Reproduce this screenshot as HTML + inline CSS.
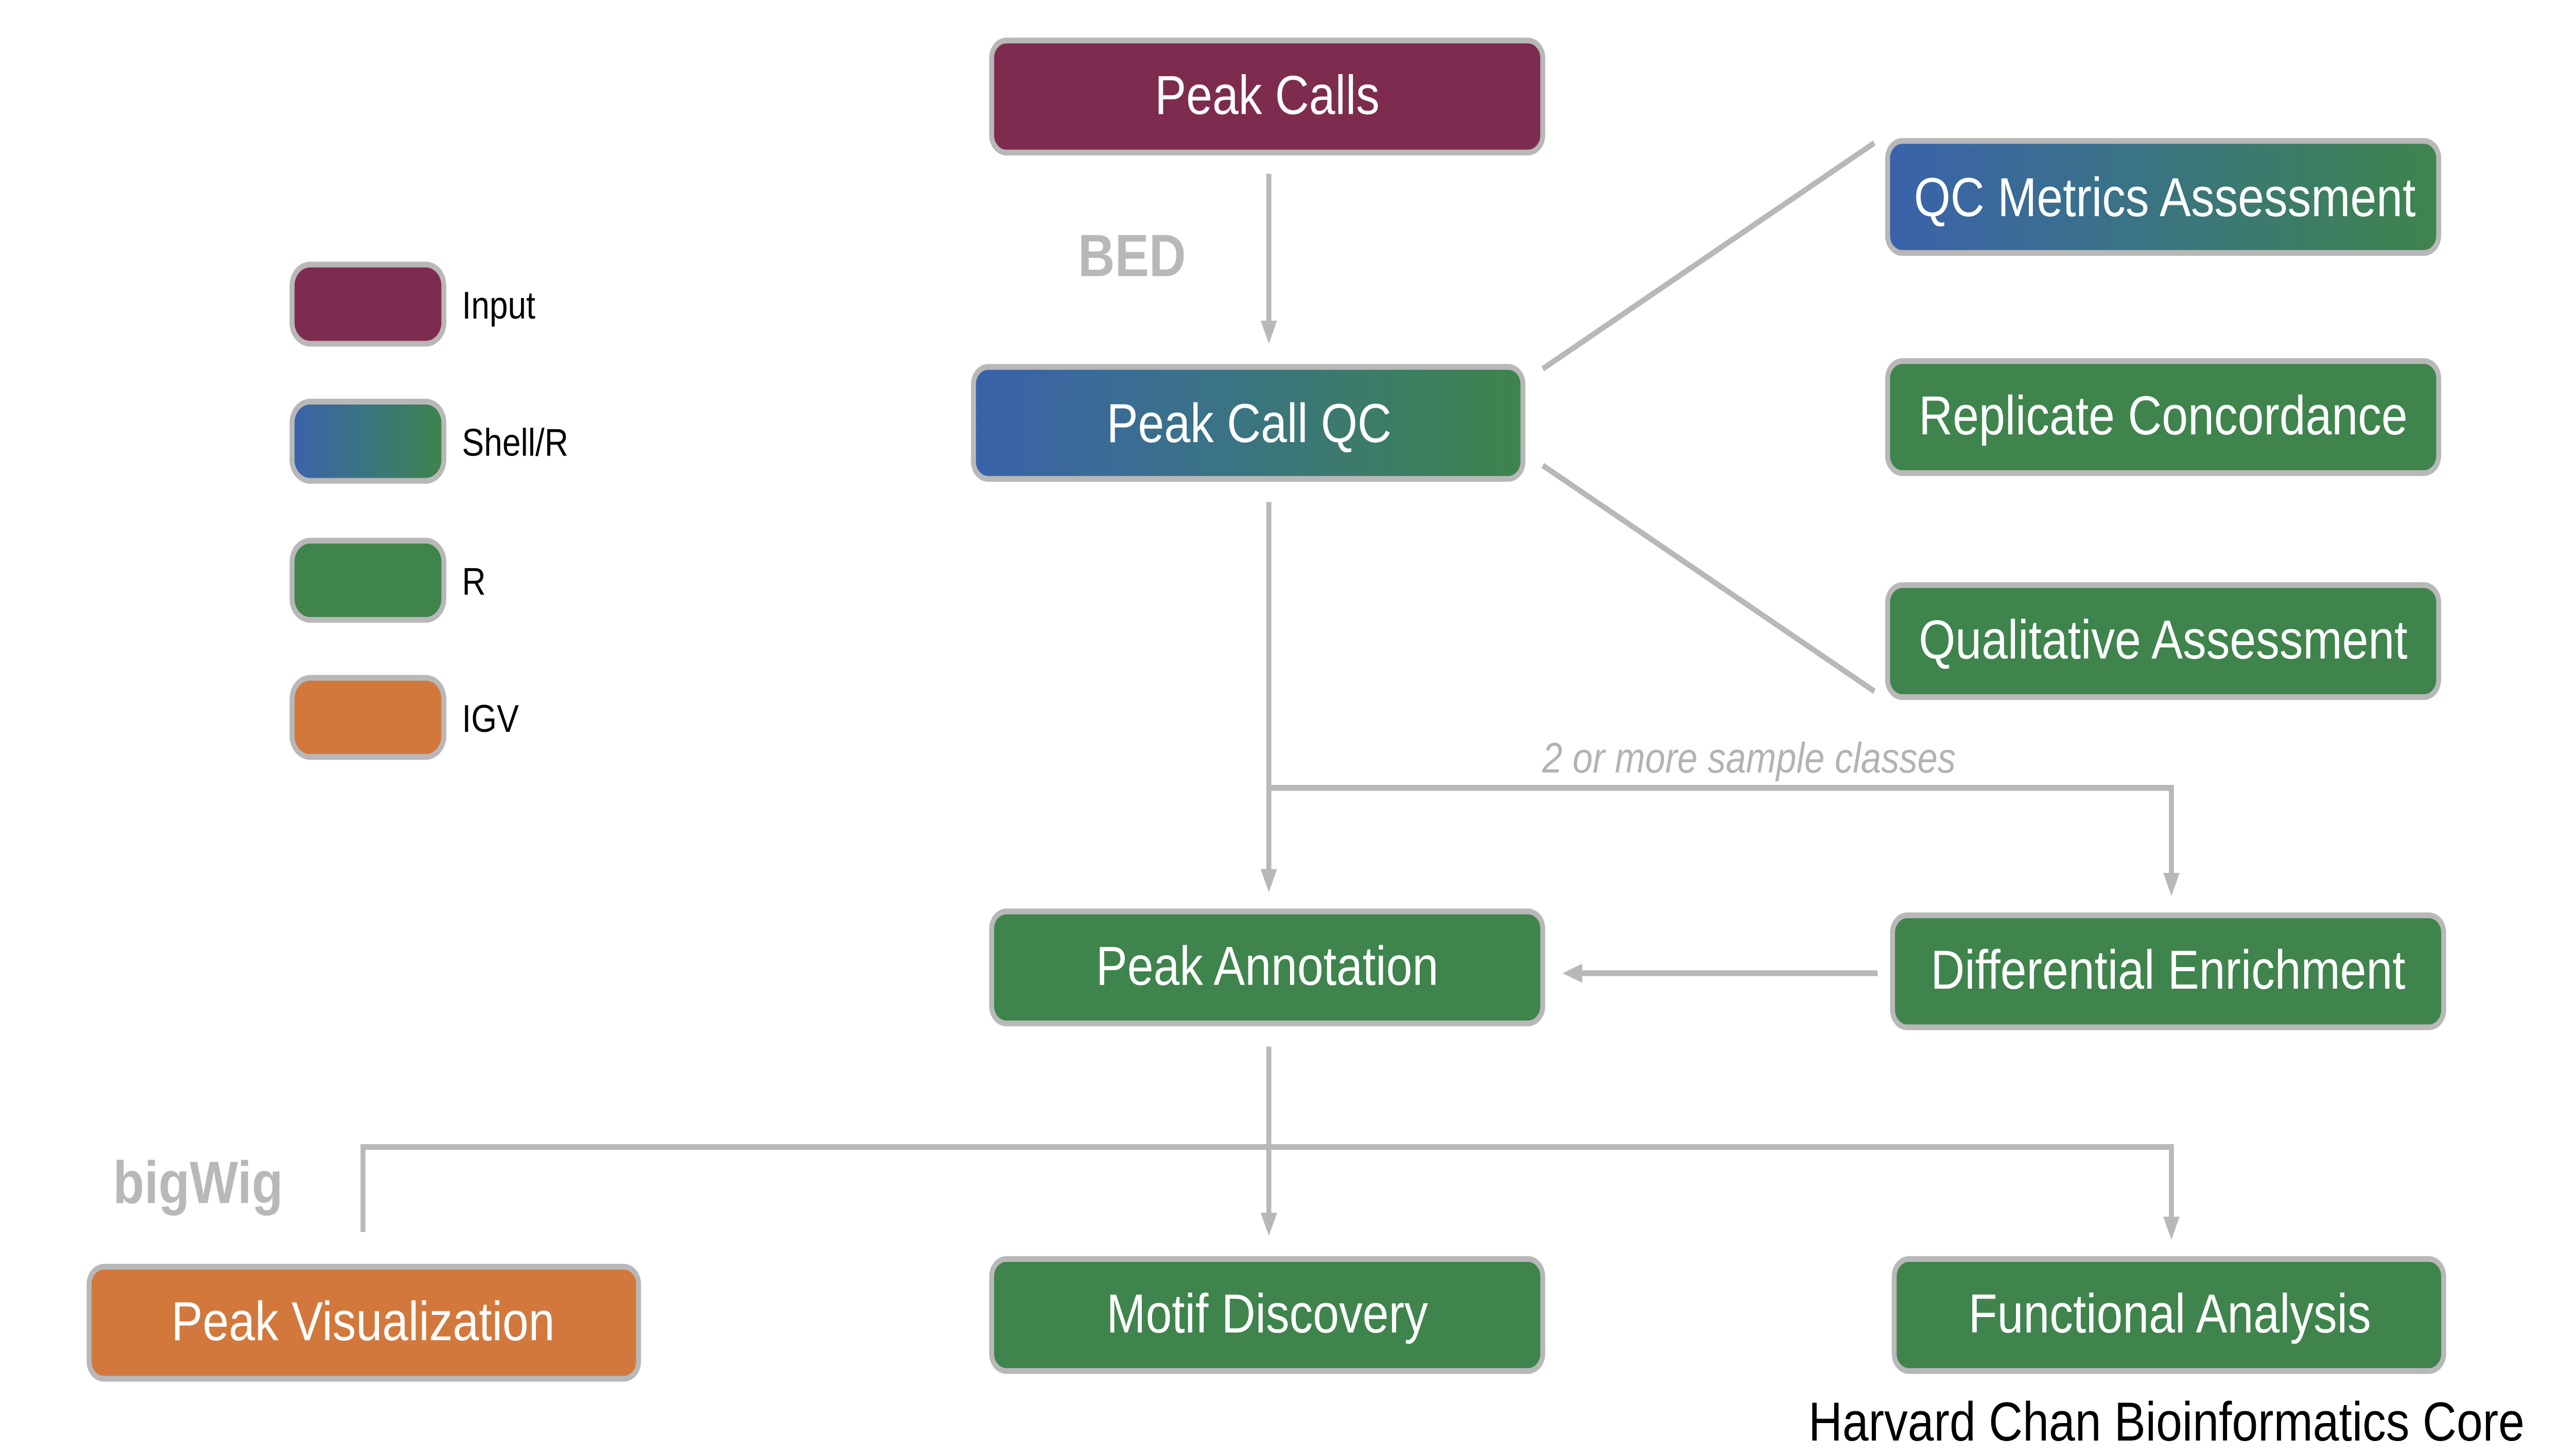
<!DOCTYPE html>
<html><head><meta charset="utf-8"><style>
html,body{margin:0;padding:0;background:#fff;overflow:hidden;}
svg{display:block;width:100vw;height:100vh;}
</style></head><body>
<svg viewBox="0 0 1560 754" preserveAspectRatio="none" xmlns="http://www.w3.org/2000/svg" font-family="Liberation Sans, sans-serif">
<defs>
<linearGradient id="g" x1="0" x2="1" y1="0" y2="0">
<stop offset="0" stop-color="#3a62ab"/><stop offset="0.45" stop-color="#3a7385"/><stop offset="1" stop-color="#3e844c"/>
</linearGradient>
<marker id="a" markerWidth="12" markerHeight="12" refX="6" refY="6" orient="auto" markerUnits="userSpaceOnUse">
<path d="M0,1 L12,6 L0,11 Z" fill="#b8b8b8"/>
</marker>
</defs>
<g stroke="#b8b8b8" stroke-width="3" fill="none">
<line x1="769" y1="90" x2="769" y2="172" marker-end="url(#a)"/>
<line x1="935" y1="191" x2="1136" y2="74"/>
<line x1="935" y1="241" x2="1136" y2="358"/>
<line x1="769" y1="260" x2="769" y2="456" marker-end="url(#a)"/>
<polyline points="769,408 1316,408 1316,458" marker-end="url(#a)"/>
<line x1="1138" y1="504" x2="953" y2="504" marker-end="url(#a)"/>
<line x1="769" y1="542" x2="769" y2="634" marker-end="url(#a)"/>
<polyline points="220,638 220,594 1316,594 1316,636" marker-end="url(#a)"/>
</g>
<g stroke="#b8b8b8" stroke-width="3">
<rect x="601" y="21" width="334" height="58" rx="9" fill="#7d2c4f"/>
<rect x="590" y="190" width="333" height="58" rx="9" fill="url(#g)"/>
<rect x="1144" y="73" width="334" height="58" rx="9" fill="url(#g)"/>
<rect x="1144" y="187" width="334" height="58" rx="9" fill="#3e844c"/>
<rect x="1144" y="303" width="334" height="58" rx="9" fill="#3e844c"/>
<rect x="601" y="472" width="334" height="58" rx="9" fill="#3e844c"/>
<rect x="1147" y="474" width="334" height="58" rx="9" fill="#3e844c"/>
<rect x="54" y="656" width="333" height="58" rx="9" fill="#d2783c"/>
<rect x="601" y="652" width="334" height="58" rx="9" fill="#3e844c"/>
<rect x="1148" y="652" width="333" height="58" rx="9" fill="#3e844c"/>
<rect x="177" y="137" width="92" height="41" rx="11" fill="#7d2c4f"/>
<rect x="177" y="208" width="92" height="41" rx="11" fill="url(#g)"/>
<rect x="177" y="280" width="92" height="41" rx="11" fill="#3e844c"/>
<rect x="177" y="351" width="92" height="41" rx="11" fill="#d2783c"/>
</g>
<g fill="#fff" font-size="28.5" text-anchor="middle">
<text x="768" y="59">Peak Calls</text>
<text x="757" y="229">Peak Call QC</text>
<text x="1312" y="112">QC Metrics Assessment</text>
<text x="1311" y="225">Replicate Concordance</text>
<text x="1311" y="341">Qualitative Assessment</text>
<text x="768" y="510">Peak Annotation</text>
<text x="1314" y="512">Differential Enrichment</text>
<text x="220" y="694">Peak Visualization</text>
<text x="768" y="690">Motif Discovery</text>
<text x="1315" y="690">Functional Analysis</text>
</g>
<g fill="#000" font-size="20">
<text x="280" y="165">Input</text>
<text x="280" y="236">Shell/R</text>
<text x="280" y="308">R</text>
<text x="280" y="379">IGV</text>
</g>
<text x="686" y="143" fill="#b8b8b8" font-size="31" font-weight="bold" text-anchor="middle">BED</text>
<text x="120" y="623" fill="#b8b8b8" font-size="31" font-weight="bold" text-anchor="middle">bigWig</text>
<text x="1060" y="400" fill="#b3b3b3" font-size="22" font-style="italic" text-anchor="middle">2 or more sample classes</text>
<text x="1530" y="746" fill="#000" font-size="28.5" text-anchor="end">Harvard Chan Bioinformatics Core</text>
</svg>
</body></html>
